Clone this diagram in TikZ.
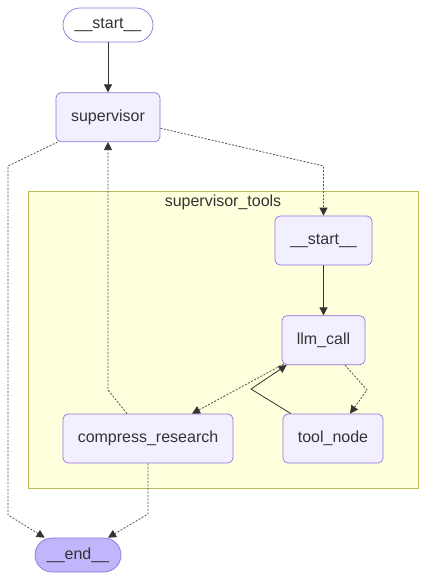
\documentclass[tikz,border=0pt]{standalone}
\usepackage{fontspec}
\setmainfont{Liberation Sans}
\usetikzlibrary{positioning, arrows.meta}

\definecolor{nodefill}{HTML}{F2F0FF}
\definecolor{nodeline}{HTML}{9370DB}
\definecolor{endfill}{HTML}{BFB6FC}
\definecolor{clusterfill}{HTML}{FFFFDE}
\definecolor{clusterline}{HTML}{AAAA33}
\definecolor{edgeline}{HTML}{333333}

\tikzset{
    box/.style={draw=nodeline, line width=0.7pt, fill=nodefill, rounded corners=5pt,
        minimum height=49pt, inner sep=2pt, text=edgeline, font=\fontsize{16}{19}\selectfont},
    terminal/.style={box, rounded corners=17pt, minimum height=34pt},
    cluster/.style={draw=clusterline!80, fill=clusterfill, line width=0.7pt},
    flow/.style={draw=edgeline, line width=0.8pt, -{Triangle[length=8pt,width=8pt,color=edgeline]}},
    maybe/.style={flow, draw=edgeline!85, dash pattern=on 2pt off 1.5pt},
}

\begin{document}
\begin{tikzpicture}[x=1pt, y=-1pt]
        \useasboundingbox (0,0) rectangle (427,581);

        % subgraph
        \draw[cluster] (28,191) rectangle (418,488);
        \node[text=edgeline, font=\fontsize{16}{19}\selectfont] (tools) at (223,202) {supervisor\_tools};

        \node[terminal, fill=white, minimum width=90pt] (st) at (108,25) {\_\_start\_\_};
        \node[box, minimum width=104pt] (sup) [below = 50pt of st] {supervisor};

        \node[box, minimum width=97pt] (ts) at (323.5,240.5) {\_\_start\_\_};
        \node[box, minimum width=83pt] (llm) [below = 50pt of ts] {llm\_call};

        \node[box, minimum width=170pt] (cr) at (148,438.5) {compress\_research};
        \node[box, minimum width=100pt] (tn) at (333,438.5) {tool\_node};

        \node[terminal, fill=endfill, minimum width=86pt] (en) at (78,555) {\_\_end\_\_};

        \path[flow]
            (st) edge (sup)
            (ts) edge (llm)
            ;

        \draw[maybe] ([xshift=2pt]sup.south west) -- (8,166) -- (8,515) -- ([xshift=10pt]en.north west);
        \draw[maybe] ([yshift=-11pt]sup.east) -- (323.5,166) -- (ts.north);
        \draw[maybe] ([xshift=-21pt]cr.north) -- (108,390) -- (sup.south);
        \draw[maybe] ([xshift=2pt,yshift=1pt]llm.south west) -- ([xshift=44pt]cr.north);
        \draw[maybe] ([xshift=21.5pt]llm.south) -- (367,390) -- ([xshift=17pt]tn.north);
        \draw[flow] ([xshift=-42pt]tn.north) -- (251,389) -- ([xshift=5pt]llm.south west);
        \draw[maybe] (cr.south) -- (148,514) -- ([xshift=30pt]en.north);
\end{tikzpicture}
\end{document}
